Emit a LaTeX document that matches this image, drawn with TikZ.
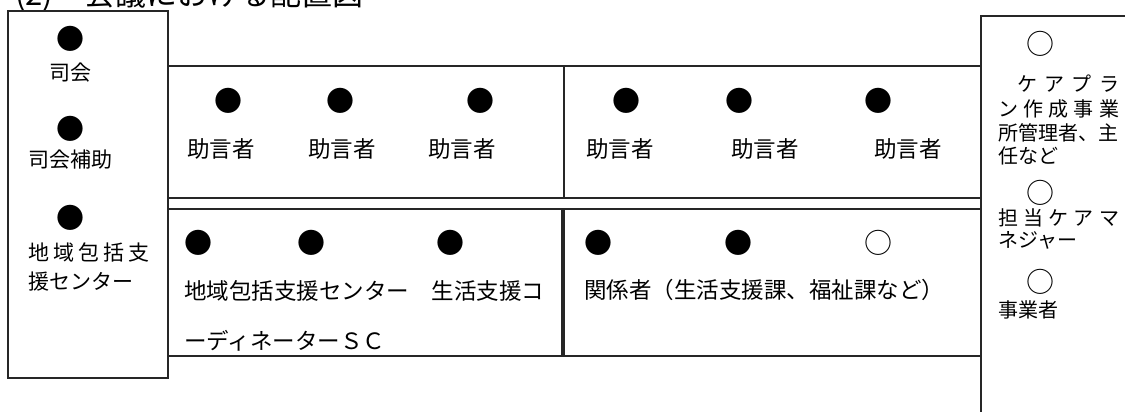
\documentclass[tikz,border=0pt]{standalone}
\usepackage{fontspec}
\newfontfamily\jp{Noto Sans CJK JP}
\begin{document}
\begin{tikzpicture}[x=1pt,y=-1pt,
  box/.style={draw=black!85,line width=1.2pt},
  lbl/.style={inner sep=0pt,font=\jp\fontsize{22.5}{22.5}\selectfont,anchor=west},
  clbl/.style={inner sep=0pt,font=\jp\fontsize{22.5}{22.5}\selectfont,anchor=center},
  llbl/.style={inner sep=0pt,font=\jp\fontsize{21}{21}\selectfont,anchor=west},
  rlbl/.style={inner sep=0pt,font=\jp\fontsize{20}{20}\selectfont,anchor=west},
  dotmark/.style={inner sep=0pt,font=\jp\fontsize{28}{28}\selectfont,anchor=center},
]
\clip (0,0) rectangle (1125,412);
\fill[white] (0,0) rectangle (1125,412);
\useasboundingbox (0,0) rectangle (1125,412);
% title (cut off at top)
\node[inner sep=0pt,anchor=west,font=\jp\fontsize{31}{31}\selectfont] (title) at (15,-5) {(2)　会議における配置図};
% boxes
\draw[box] (8,11) rectangle (168,378);
\draw[box] (168,66) rectangle (981,198);
\draw[box] (564,66) -- (564,198);
\draw[box] (168,209) rectangle (562,356);
\draw[box] (564,209) rectangle (981,356);
\draw[box] (981,420) -- (981,16) -- (1130,16);
% left box
\node[dotmark] (d1) at (70,39) {●};
\node[llbl,anchor=center] (t1) at (70,73) {司会};
\node[dotmark] (d2) at (70,129) {●};
\node[llbl] (t2) at (28,160) {司会補助};
\node[dotmark] (d3) at (70,218) {●};
\node[llbl] (t3) at (28,252) {\makebox[121pt][s]{地\hfill 域\hfill 包\hfill 括\hfill 支}};
\node[llbl] (t4) at (28,282) {援センター};
% top row
\node[dotmark] (a1) at (228,101) {●};
\node[dotmark] (a2) at (340,101) {●};
\node[dotmark] (a3) at (480,101) {●};
\node[dotmark] (a4) at (626,101) {●};
\node[dotmark] (a5) at (739,101) {●};
\node[dotmark] (a6) at (878,101) {●};
\node[clbl] (b1) at (221,149) {助言者};
\node[clbl] (b2) at (342,149) {助言者};
\node[clbl] (b3) at (462,149) {助言者};
\node[clbl] (b4) at (620,149) {助言者};
\node[clbl] (b5) at (765,149) {助言者};
\node[clbl] (b6) at (908,149) {助言者};
% bottom row
\node[dotmark] (c1) at (198,243) {●};
\node[dotmark] (c2) at (311,243) {●};
\node[dotmark] (c3) at (450,243) {●};
\node[dotmark] (c4) at (598,243) {●};
\node[dotmark] (c5) at (738,243) {●};
\node[dotmark] (c6) at (878,243) {○};
\node[lbl] (e1) at (184,291) {地域包括支援センター　生活支援コ};
\node[lbl] (e2) at (184,341) {ーディネーターＳＣ};
\node[lbl] (e3) at (584,290) {関係者（生活支援課、福祉課など）};
% right box
\node[dotmark] (r1) at (1040,44) {○};
\node[rlbl] (s1) at (1017,84) {\makebox[102pt][s]{ケ\hfill ア\hfill プ\hfill ラ}};
\node[rlbl] (s2) at (998,109) {\makebox[121pt][s]{ン\hfill 作\hfill 成\hfill 事\hfill 業}};
\node[rlbl] (s3) at (998,133) {所管理者、主};
\node[rlbl] (s4) at (998,156) {任など};
\node[dotmark] (r2) at (1040,193) {○};
\node[rlbl] (s5) at (998,218) {\makebox[121pt][s]{担\hfill 当\hfill ケ\hfill ア\hfill マ}};
\node[rlbl] (s6) at (998,240) {ネジャー};
\node[dotmark] (r3) at (1040,282) {○};
\node[rlbl] (s7) at (998,310) {事業者};
\end{tikzpicture}
\end{document}
